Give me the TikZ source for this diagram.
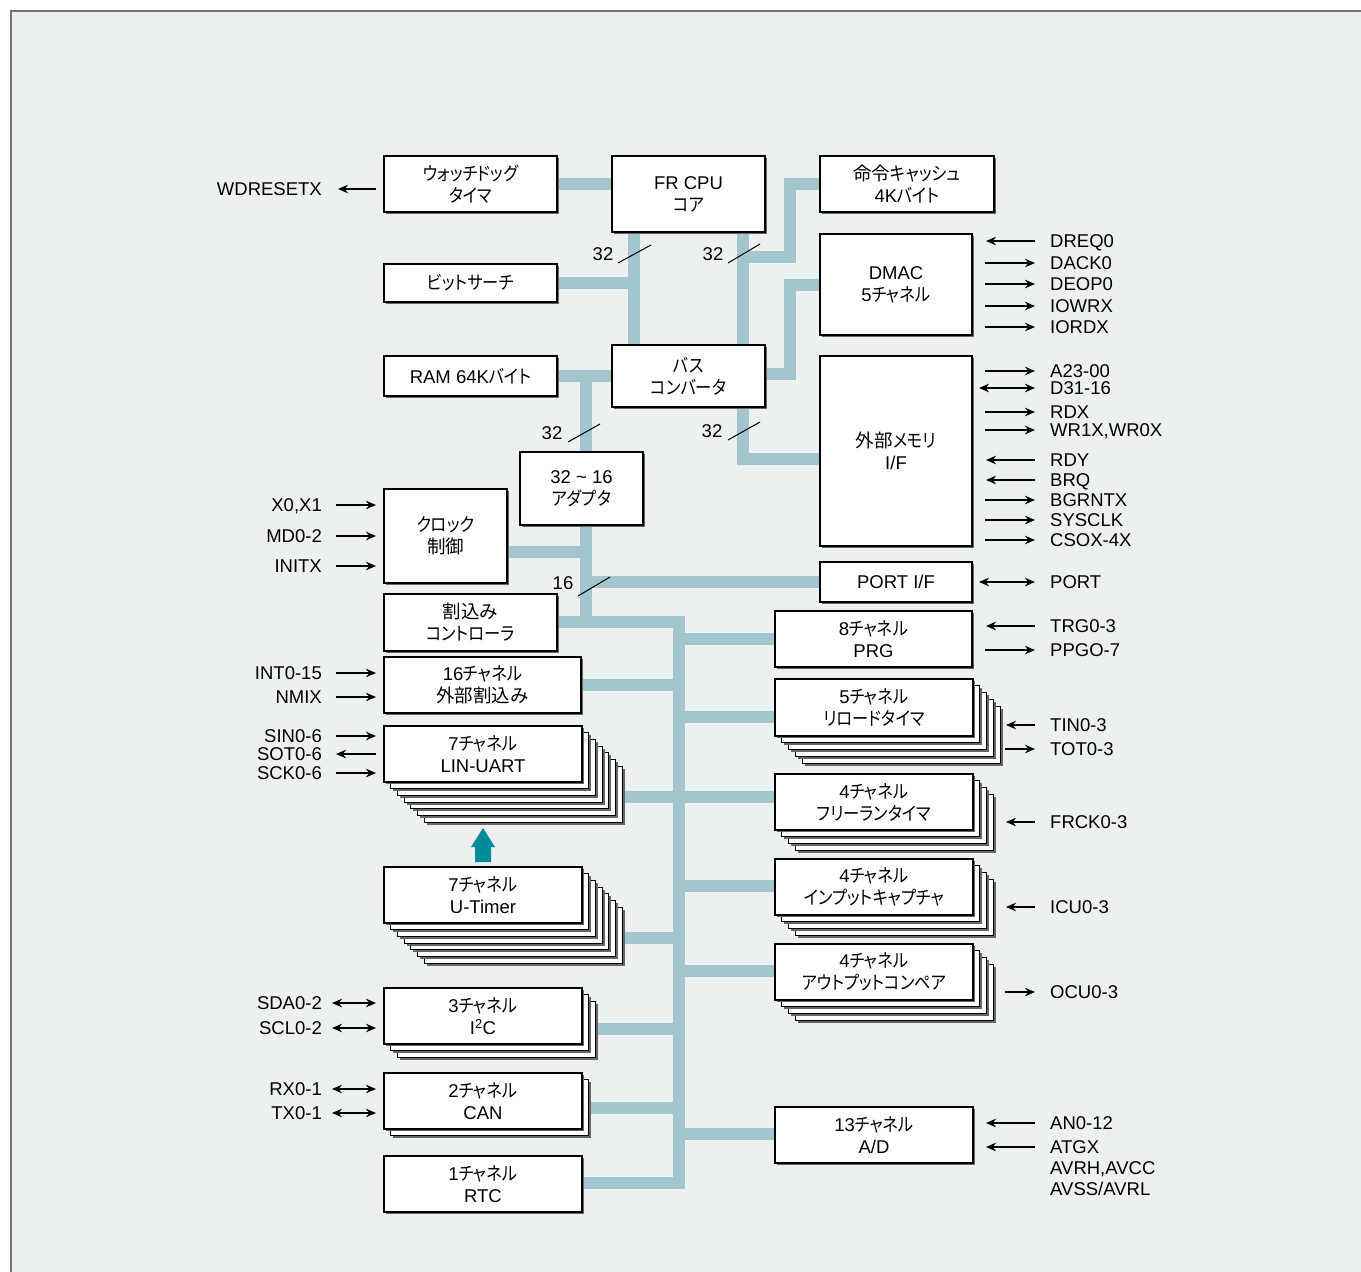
\documentclass[tikz,border=0pt]{standalone}
\usepackage{fontspec}
\setmainfont{Liberation Sans}
\newfontfamily\jpf{Noto Sans CJK JP}[RawFeature=+palt, FakeStretch=0.88]
\newfontfamily\kjf{Noto Sans CJK JP}
\newcommand\J[1]{{\jpf #1}}
\newcommand\K[1]{{\kjf #1}}
\usetikzlibrary{shadows,arrows.meta,calc}
\definecolor{panelc}{HTML}{ECF0F1}
\definecolor{busc}{HTML}{A3C5CD}
\definecolor{uparr}{HTML}{008A9A}
\pgfdeclarelayer{back}\pgfdeclarelayer{busl}\pgfsetlayers{back,busl,main}
\tikzset{
 box/.style={draw=black, line width=1.2pt, fill=white, inner sep=0pt, align=center,
   font=\fontsize{18.5}{22}\selectfont,
   drop shadow={shadow xshift=2.4pt, shadow yshift=-2.4pt, fill=black!60, opacity=1}},
 bus/.style={draw=busc, line width=12pt, line join=miter},
 sigl/.style={line width=1.5pt},
 lbl/.style={inner sep=0pt, font=\fontsize{18.5}{22}\selectfont, text height=13.3pt, text depth=0pt},
 slash/.style={line width=1pt},
}
\newcommand\bx[6]{\node[box, minimum width={(#4)-(#2)}, minimum height={(#5)-(#3)}] (#1) at ({((#2)+(#4))/2},{((#3)+(#5))/2}) {#6};}
\newcommand\stk[8]{%
 \foreach \k in {#1,...,1}{\node[box, minimum width={(#6)-(#4)}, minimum height={(#7)-(#5)}] at ({((#4)+(#6))/2+#2*\k},{((#5)+(#7))/2+#2*\k}) {};}%
 \bx{#3}{#4}{#5}{#6}{#7}{#8}}
% right-side signal: name, y, x start, arrow, text
\newcommand\rsig[5]{\node[lbl, anchor=west] (#1) at (1050,#2) {#5};
 \draw[sigl, #4] (#3,#2) -- (1035,#2);}
% left-side signal: name, y, x start, arrow, text
\newcommand\lsig[5]{\node[lbl, anchor=east] (#1) at (322,#2) {#5};
 \draw[sigl, #4] (#3,#2) -- (376,#2);}
\begin{document}
\begin{tikzpicture}[x=1pt,y=-1pt,>={Stealth[length=10pt,width=8.5pt]}]
\useasboundingbox (0,0) rectangle (1361,1272);
\begin{pgfonlayer}{back}
\fill[panelc] (11,11) rectangle (1361,1272);
\draw[line width=2pt, black!55] (11,1272) -- (11,11) -- (1361,11);
\end{pgfonlayer}

% ---- boxes ----
\bx{wd}{384}{156}{557}{212}{\J{ウォッチドッグ}\\\J{タイマ}}
\bx{cpu}{612}{156}{765}{232}{FR CPU\\\J{コア}}
\bx{cache}{820}{156}{994}{212}{\K{命令}\J{キャッシュ}\\4K\J{バイト}}
\bx{bits}{384}{264}{557}{302}{\J{ビットサーチ}}
\bx{dmac}{820}{234}{972}{335}{DMAC\\5\J{チャネル}}
\bx{ram}{384}{356}{557}{396}{RAM 64K\J{バイト}}
\bx{bconv}{612}{345}{765}{407}{\J{バス}\\\J{コンバータ}}
\bx{emem}{820}{356}{972}{546}{\K{外部}\J{メモリ}\\I/F}
\bx{adp}{520}{452}{643}{525}{32 \textasciitilde{} 16\\\J{アダプタ}}
\bx{clk}{384}{489}{507}{583}{\J{クロック}\\\K{制御}}
\bx{port}{820}{562}{972}{602}{PORT I/F}
\bx{ictl}{384}{594}{557}{651}{\K{割込み}\\\J{コントローラ}}
\bx{prg}{775}{611}{972}{667}{8\J{チャネル}\\PRG}
\bx{eint}{384}{657}{581}{713}{16\J{チャネル}\\\K{外部割込み}}
\stk{4}{6.8}{rld}{775}{679}{973}{736}{5\J{チャネル}\\\J{リロードタイマ}}
\stk{3}{6.8}{frt}{775}{774}{973}{830}{4\J{チャネル}\\\J{フリーランタイマ}}
\stk{3}{6.8}{icu}{775}{859}{973}{915}{4\J{チャネル}\\\J{インプットキャプチャ}}
\stk{3}{6.8}{ocu}{775}{944}{973}{1000}{4\J{チャネル}\\\J{アウトプットコンペア}}
\bx{ad}{775}{1107}{973}{1163}{13\J{チャネル}\\A/D}
\stk{6}{6.7}{lin}{384}{726}{582}{782}{7\J{チャネル}\\LIN-UART}
\stk{6}{6.7}{ut}{384}{867}{582}{923}{7\J{チャネル}\\U-Timer}
\stk{2}{6.8}{i2c}{384}{988}{582}{1044}{3\J{チャネル}\\I\textsuperscript{2}C}
\stk{1}{6.8}{can}{384}{1073}{582}{1129}{2\J{チャネル}\\CAN}
\bx{rtc}{384}{1156}{582}{1212}{1\J{チャネル}\\RTC}

% ---- buses ----
\begin{pgfonlayer}{busl}
\draw[bus] (wd.east |- 0,184) -- (cpu.west |- 0,184);
\draw[bus] (634,232) -- (634,345);
\draw[bus] (bits.east |- 0,283) -- (640,283);
\draw[bus] (743,232) -- (743,345);
\draw[bus] (cache.west |- 0,184) -- (790,184) -- (790,257) -- (737,257);
\draw[bus] (dmac.west |- 0,285) -- (790,285) -- (790,374) -- (bconv.east |- 0,374);
\draw[bus] (ram.east |- 0,376) -- (bconv.west |- 0,376);
\draw[bus] (586,370) -- (586,452);
\draw[bus] (743,407) -- (743,459) -- (emem.west |- 0,459);
\draw[bus] (586,525) -- (586,628);
\draw[bus] (clk.east |- 0,552) -- (592,552);
\draw[bus] (580,582) -- (port.west |- 0,582);
\draw[bus] (ictl.east |- 0,622) -- (679,622) -- (679,1183) -- (rtc.east |- 0,1183);
\draw[bus] (eint.east |- 0,685) -- (685,685);
\draw[bus] (622,797) -- (685,797);
\draw[bus] (622,938) -- (685,938);
\draw[bus] (596,1029) -- (685,1029);
\draw[bus] (589,1108) -- (685,1108);
\draw[bus] (673,639) -- (prg.west |- 0,639);
\draw[bus] (673,717) -- (rld.west |- 0,717);
\draw[bus] (673,797) -- (frt.west |- 0,797);
\draw[bus] (673,886) -- (icu.west |- 0,886);
\draw[bus] (673,971) -- (ocu.west |- 0,971);
\draw[bus] (673,1134) -- (ad.west |- 0,1134);
\end{pgfonlayer}

% ---- bus width marks ----
\draw[slash] (618,263) -- (651,245);
\node[lbl] (w1) at (603,254) {32};
\draw[slash] (728,263) -- (760,244);
\node[lbl] (w2) at (713,254) {32};
\draw[slash] (568,442) -- (600,424);
\node[lbl] (w3) at (552,433) {32};
\draw[slash] (728,440) -- (760,422);
\node[lbl] (w4) at (712,431) {32};
\draw[slash] (578,596) -- (610,577);
\node[lbl] (w5) at (563,583) {16};

% ---- up arrow U-Timer -> LIN-UART ----
\fill[uparr] (475,862) -- (475,847) -- (471,847) -- (483,828) -- (495,847) -- (491,847) -- (491,862) -- cycle;

% ---- left signals ----
\lsig{wdr}{189}{338}{<-}{WDRESETX}
\lsig{x01}{505}{336}{->}{X0,X1}
\lsig{md}{536}{336}{->}{MD0-2}
\lsig{initx}{566}{336}{->}{INITX}
\lsig{int}{673}{336}{->}{INT0-15}
\lsig{nmix}{697}{336}{->}{NMIX}
\lsig{sin}{736}{336}{->}{SIN0-6}
\lsig{sot}{754}{336}{<-}{SOT0-6}
\lsig{sck}{773}{336}{->}{SCK0-6}
\lsig{sda}{1003}{332}{<->}{SDA0-2}
\lsig{scl}{1028}{332}{<->}{SCL0-2}
\lsig{rx}{1089}{332}{<->}{RX0-1}
\lsig{tx}{1113}{332}{<->}{TX0-1}

% ---- right signals ----
\rsig{dreq}{241}{986}{<-}{DREQ0}
\rsig{dack}{263}{985}{->}{DACK0}
\rsig{deop}{284}{985}{->}{DEOP0}
\rsig{iowrx}{306}{985}{->}{IOWRX}
\rsig{iordx}{327}{985}{->}{IORDX}
\rsig{addr}{371}{985}{->}{A23-00}
\rsig{data}{388}{979}{<->}{D31-16}
\rsig{rdx}{412}{985}{->}{RDX}
\rsig{wrx}{430}{985}{->}{WR1X,WR0X}
\rsig{rdy}{460}{986}{<-}{RDY}
\rsig{brq}{480}{986}{<-}{BRQ}
\rsig{bgr}{500}{985}{->}{BGRNTX}
\rsig{sysclk}{520}{985}{->}{SYSCLK}
\rsig{cs}{540}{985}{->}{CSOX-4X}
\rsig{portsig}{582}{979}{<->}{PORT}
\rsig{trg}{626}{986}{<-}{TRG0-3}
\rsig{ppg}{650}{985}{->}{PPGO-7}
\rsig{tin}{725}{1006}{<-}{TIN0-3}
\rsig{tot}{749}{1005}{->}{TOT0-3}
\rsig{frck}{822}{1006}{<-}{FRCK0-3}
\rsig{icus}{907}{1006}{<-}{ICU0-3}
\rsig{ocus}{992}{1005}{->}{OCU0-3}
\rsig{an}{1123}{986}{<-}{AN0-12}
\rsig{atgx}{1147}{986}{<-}{ATGX}
\node[lbl, anchor=west] (avrh) at (1050,1168) {AVRH,AVCC};
\node[lbl, anchor=west] (avss) at (1050,1189) {AVSS/AVRL};
\end{tikzpicture}
\end{document}
